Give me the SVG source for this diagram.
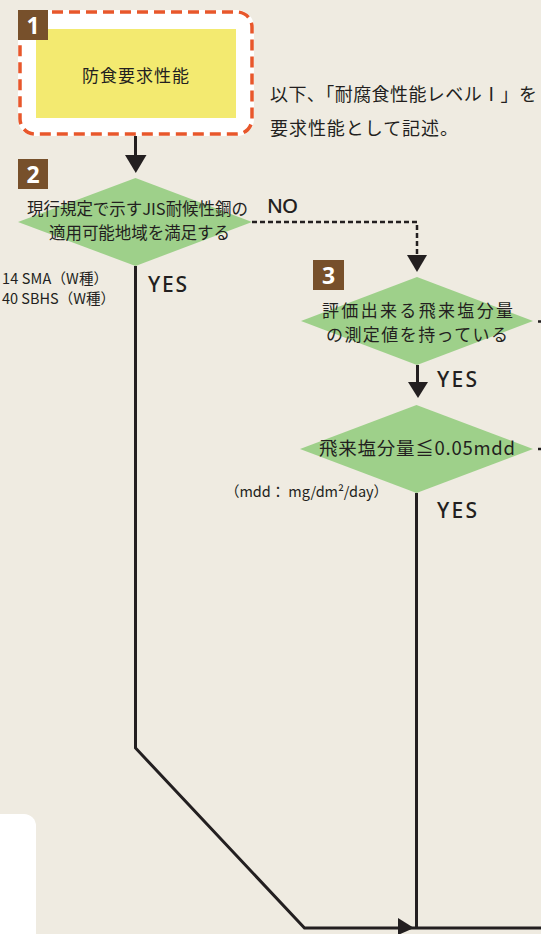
<svg xmlns="http://www.w3.org/2000/svg" width="541" height="934" viewBox="0 0 541 934">
<defs>
<style>
.t{font-family:"Noto Sans CJK JP","Noto Sans",sans-serif;fill:#231f20;font-weight:400}
.lat{font-family:"Noto Sans","Noto Sans CJK JP",sans-serif;fill:#231f20;font-weight:500}
.dia{fill:#9ed08a}
.num{fill:#77502b}
.numt{font-family:"Noto Sans","Liberation Sans",sans-serif;font-weight:bold;font-size:23px;fill:#ffffff;text-anchor:middle}
.solid{fill:none;stroke:#231f20;stroke-width:3}
.dash{fill:none;stroke:#231f20;stroke-width:2.5;stroke-dasharray:5 3}
.head{fill:#231f20}
</style>
</defs>
<rect x="0" y="0" width="541" height="934" fill="#efebe1"/>
<rect x="-20" y="814" width="56" height="140" rx="12" fill="#ffffff"/>

<g id="connectors">
<line class="solid" x1="135.5" y1="118" x2="135.5" y2="158"/>
<polygon class="head" points="125,155 146.5,155 135.8,173"/>
<polyline class="dash" points="252,222 417,222 417,257"/>
<polygon class="head" points="407,255 427,255 417,272"/>
<line class="solid" x1="417.5" y1="365" x2="417.5" y2="384"/>
<polygon class="head" points="408,382 428,382 418,398"/>
<polyline class="solid" points="135.5,266 135.5,748 304.5,928 541,928"/>
<line class="solid" x1="416.5" y1="493" x2="416.5" y2="928"/>
<polygon class="head" points="398,918 398,935 414,928"/>
<line class="dash" x1="538" y1="321.5" x2="549" y2="321.5"/>
<line class="dash" x1="538" y1="449" x2="549" y2="449"/>
<text class="lat" x="267" y="213" font-size="20.5" textLength="31">NO</text>
<text class="lat" x="148" y="292" font-size="21" textLength="39">YES</text>
<text class="lat" x="437" y="387" font-size="21" textLength="40">YES</text>
<text class="lat" x="437" y="518" font-size="21" textLength="40">YES</text>
</g>

<g id="node1">
<rect x="20" y="12" width="232" height="122" rx="15" fill="#ffffff" stroke="#ffffff" stroke-width="4"/>
<rect x="20" y="12" width="232" height="122" rx="15" fill="none" stroke="#e8572b" stroke-width="3.5" stroke-dasharray="11 6"/>
<rect x="36" y="29" width="200" height="89" fill="#f3ea70"/>
<rect class="num" x="18" y="10" width="30" height="30"/>
<text class="numt" x="33" y="34">1</text>
<text class="t" x="135.5" y="82" font-size="17" text-anchor="middle" textLength="107">防食要求性能</text>
</g>

<g id="note">
<text class="t" x="270" y="101" font-size="18" textLength="267">以下、「耐腐食性能レベルⅠ」を</text>
<text class="t" x="270" y="135" font-size="18" textLength="188">要求性能として記述。</text>
</g>

<g id="node2">
<polygon class="dia" points="135.5,178 252,222 135.5,266 18,222"/>
<rect class="num" x="18" y="159" width="30" height="30"/>
<text class="numt" x="33" y="183">2</text>
<text class="t" x="137.5" y="215" font-size="16.5" text-anchor="middle" textLength="221">現行規定で示すJIS耐候性鋼の</text>
<text class="t" x="139.5" y="239" font-size="16.5" text-anchor="middle" textLength="181">適用可能地域を満足する</text>
<text class="t" x="2" y="284" font-size="14.5" textLength="106">14 SMA（W種）</text>
<text class="t" x="2" y="304" font-size="14.5" textLength="113">40 SBHS（W種）</text>
</g>

<g id="node3">
<polygon class="dia" points="417,277 533,321 417,365 301,321"/>
<rect class="num" x="313" y="260" width="31" height="30"/>
<text class="numt" x="328.5" y="284">3</text>
<text class="t" x="417.5" y="317" font-size="17" text-anchor="middle" textLength="191">評価出来る飛来塩分量</text>
<text class="t" x="417" y="341" font-size="17" text-anchor="middle" textLength="182">の測定値を持っている</text>
</g>

<g id="node4">
<polygon class="dia" points="416.5,405 533,449 416.5,493 300,449"/>
<text class="t" x="417" y="455" font-size="18.5" text-anchor="middle" textLength="196">飛来塩分量≦0.05mdd</text>
<text class="t" x="225" y="497" font-size="14.5" textLength="163">（mdd： mg/dm²/day）</text>
</g>
</svg>
